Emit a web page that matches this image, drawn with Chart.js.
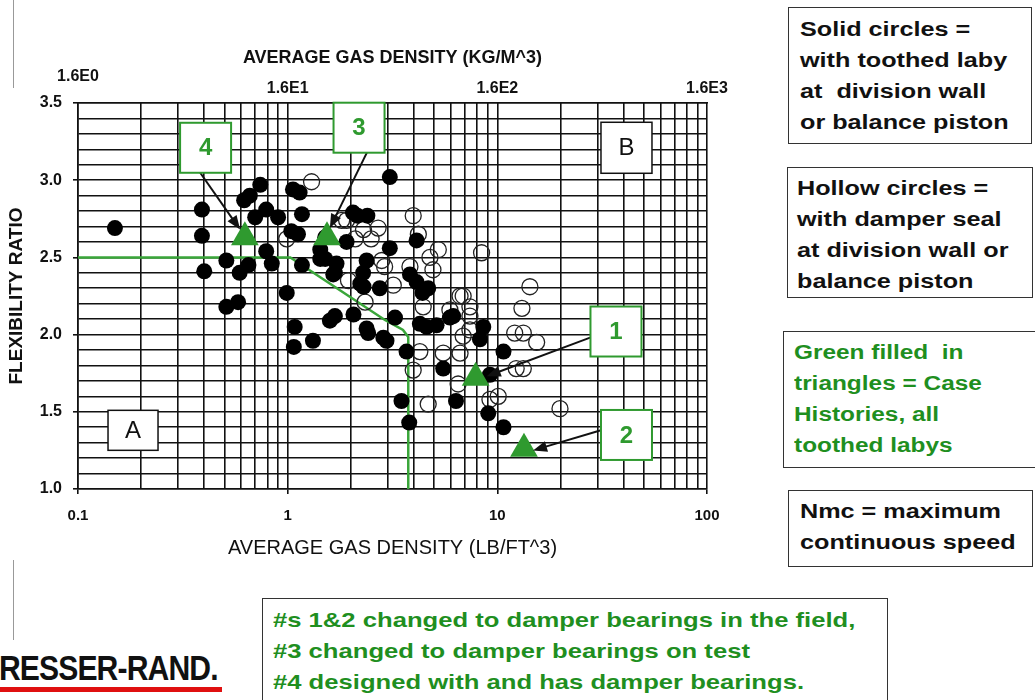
<!DOCTYPE html>
<html>
<head>
<meta charset="utf-8">
<script src="https://cdn.jsdelivr.net/npm/chart.js@4.4.1/dist/chart.umd.min.js"></script>
<style>
  body { margin: 0; width: 1035px; height: 700px; background: #fff; position: relative; overflow: hidden;
         font-family: "Liberation Sans", Arial, sans-serif; }
  #chart { position: absolute; left: 0; top: 0; }
  .note { position: absolute; border: 1.5px solid #333; background: #fff; box-sizing: border-box; overflow: hidden;
          font-weight: bold; font-size: 20px; line-height: 31px; color: #111; white-space: nowrap; }
  .note span { display: inline-block; transform: scaleX(1.26); transform-origin: 0 0; }
  .green { color: #1f8f1f; }
  .edge { position: absolute; width: 1px; background: #999; }
  #logo { position: absolute; left: -22px; top: 648px; font: bold 35px "Liberation Sans", Arial;
          letter-spacing: -1px; color: #111; transform: scaleX(0.86); transform-origin: 0 0; white-space: nowrap; }
  #logoBar { position: absolute; left: 0; top: 687px; width: 222px; height: 5px; background: #e01010; }
</style>
</head>
<body>
<canvas id="chart" width="760" height="580"></canvas>

<div class="edge" style="left:13px; top:0; height:88px;"></div>
<div class="edge" style="left:13px; top:560px; height:80px;"></div>

<div class="note" style="left:788px; top:7px; width:244px; height:137px; padding:6px 0 0 11px;"><span>Solid circles =<br>with toothed laby<br>at&nbsp; division wall<br>or balance piston</span></div>
<div class="note" style="left:787px; top:167px; width:246px; height:131px; padding:5px 0 0 9px;"><span>Hollow circles =<br>with damper seal<br>at division wall or<br>balance piston</span></div>
<div class="note green" style="left:783px; top:331px; width:262px; height:137px; padding:5px 0 0 10px;"><span style="transform:scaleX(1.22)">Green filled&nbsp; in<br>triangles = Case<br>Histories, all<br>toothed labys</span></div>
<div class="note" style="left:788px; top:490px; width:245px; height:77px; padding:5px 0 0 11px;"><span>Nmc = maximum<br>continuous speed</span></div>
<div class="note green" style="left:262px; top:598px; width:626px; height:115px; padding:5px 0 0 10px; font-size:21px;"><span style="transform:scaleX(1.22)">#s 1&amp;2 changed to damper bearings in the field,<br>#3 changed to damper bearings on test<br>#4 designed with and has damper bearings.</span></div>

<div id="logo">DRESSER-RAND.</div>
<div id="logoBar"></div>

<script>
// average gas density (lb/ft^3) and flexibility ratio for compressors with toothed labyrinths
const solidX = [0.15, 0.39, 0.39, 0.40, 0.51, 0.59, 0.65, 0.51, 0.58, 0.62, 0.66, 0.74, 0.79, 0.70, 0.90,
  1.06, 1.14, 1.17, 1.04, 1.12, 0.79, 0.84, 1.17, 0.99, 1.08, 1.07, 1.32, 1.43, 1.51, 1.51, 1.43, 1.59,
  1.65, 2.06, 2.05, 2.15, 2.40, 3.07, 2.30, 2.75, 2.42, 2.86, 1.71, 1.68, 2.38, 2.29, 2.22, 3.07, 4.12,
  4.12, 4.68, 3.83, 4.40, 6.16, 4.27, 3.25, 1.68, 2.38, 5.13, 2.96, 3.69, 4.60, 5.94, 8.57, 8.26, 10.7,
  5.52, 9.22, 3.49, 3.80, 6.35, 9.05, 10.7, 1.91];
const solidY = [2.69, 2.81, 2.64, 2.41, 2.48, 2.40, 2.45, 2.18, 2.21, 2.87, 2.90, 2.97, 2.81, 2.76, 2.76,
  2.94, 2.92, 2.78, 2.67, 2.65, 2.54, 2.46, 2.45, 2.27, 2.05, 1.92, 1.96, 2.49, 2.49, 2.63, 2.55, 2.09,
  2.39, 2.13, 2.79, 2.77, 2.77, 3.02, 2.31, 2.30, 2.01, 1.98, 2.46, 2.40, 2.48, 2.40, 2.33, 2.56, 2.61,
  2.34, 2.30, 2.39, 2.27, 2.12, 2.07, 2.11, 2.12, 2.04, 2.06, 1.96, 1.89, 2.05, 2.11, 2.05, 1.97, 1.89,
  1.78, 1.74, 1.57, 1.43, 1.57, 1.49, 1.40, 2.60];

// compressors with damper seals
const hollowX = [1.30, 0.99, 1.91, 1.81, 2.30, 2.70, 3.97, 4.20, 5.23, 4.77, 1.95, 2.81, 3.19, 3.83, 4.93,
  6.87, 2.34, 7.40, 8.41, 13.1, 12.1, 13.3, 15.4, 12.3, 13.3, 10.1, 19.9, 4.68, 3.97, 5.52, 6.64, 6.87,
  7.40, 6.50, 9.22, 4.43, 7.40, 14.3, 4.27, 6.64, 5.94, 2.10, 2.50, 2.90];
const hollowY = [2.99, 2.62, 2.74, 2.74, 2.68, 2.69, 2.77, 2.65, 2.55, 2.50, 2.35, 2.48, 2.32, 2.44, 2.42,
  2.25, 2.21, 2.12, 2.53, 2.17, 2.01, 2.01, 1.95, 1.78, 1.78, 1.60, 1.52, 1.55, 1.77, 1.88, 1.88, 1.99,
  2.03, 1.68, 1.58, 2.18, 2.18, 2.31, 1.89, 2.25, 2.16, 2.62, 2.62, 2.44];

// case histories 1..4
const caseX = [7.88, 13.4, 1.54, 0.625];
const caseY = [1.72, 1.26, 2.63, 2.63];

// stability boundary between region A and region B
const boundaryX = [0.1, 1.03, 2.91, 3.55, 3.76, 3.76];
const boundaryY = [2.5, 2.5, 2.095, 2.03, 1.985, 1.0];

// callout boxes and their arrows
const calloutLabels = ['1', '2', '3', '4'];
const calloutBoxX = [36.8, 41.3, 2.19, 0.406];
const calloutBoxY = [2.02, 1.35, 3.34, 3.21];
const arrowFromX = [27.7, 31.2, 2.39, 0.382];
const arrowFromY = [1.98, 1.38, 3.18, 3.05];
const arrowToX = [8.9, 14.8, 1.59, 0.593];
const arrowToY = [1.73, 1.25, 2.69, 2.68];

const regionLabels = ['A', 'B'];
const regionX = [0.183, 41.3];
const regionY = [1.38, 3.21];

const xTickValues = [0.1, 1, 10, 100];
const topTickValues = [1.6, 16, 160, 1600];
const topTickLabels = ['1.6E0', '1.6E1', '1.6E2', '1.6E3'];

const GREEN = '#2f9a2f';
const INK = '#111';

const pts = (xs, ys) => xs.map((v, i) => ({x: v, y: ys[i]}));

// log grid: 1..9 in every decade
const gridX = [];
[0.1, 1, 10].forEach(d => { for (let k = 1; k <= 9; k++) gridX.push(+(k * d).toPrecision(3)); });
gridX.push(100);
const gridY = [];
for (let i = 0; i <= 25; i++) gridY.push(+(1 + i * 0.1).toFixed(1));

const isMajorX = v => xTickValues.some(t => Math.abs(t - v) < 1e-9);
const isMajorY = v => Math.abs(v * 2 - Math.round(v * 2)) < 1e-6;

const calloutPlugin = {
  id: 'callouts',
  afterDatasetsDraw(chart) {
    const {ctx, scales: {x, y}} = chart;
    ctx.save();

    ctx.strokeStyle = INK;
    ctx.fillStyle = INK;
    ctx.lineWidth = 2;
    calloutLabels.forEach((lbl, i) => {
      const x0 = x.getPixelForValue(arrowFromX[i]), y0 = y.getPixelForValue(arrowFromY[i]);
      const x1 = x.getPixelForValue(arrowToX[i]), y1 = y.getPixelForValue(arrowToY[i]);
      const a = Math.atan2(y1 - y0, x1 - x0);
      const c = Math.cos(a), s = Math.sin(a);
      ctx.beginPath();
      ctx.moveTo(x0, y0);
      ctx.lineTo(x1 - 8 * c, y1 - 8 * s);
      ctx.stroke();
      ctx.beginPath();
      ctx.moveTo(x1, y1);
      ctx.lineTo(x1 - 14 * c + 5.5 * s, y1 - 14 * s - 5.5 * c);
      ctx.lineTo(x1 - 14 * c - 5.5 * s, y1 - 14 * s + 5.5 * c);
      ctx.closePath();
      ctx.fill();
    });

    const drawBox = (cx, cy, w, h, text, color, width, font) => {
      ctx.fillStyle = '#fff';
      ctx.fillRect(cx - w / 2, cy - h / 2, w, h);
      ctx.strokeStyle = color;
      ctx.lineWidth = width;
      ctx.strokeRect(cx - w / 2, cy - h / 2, w, h);
      ctx.fillStyle = color;
      ctx.font = font;
      ctx.textAlign = 'center';
      ctx.textBaseline = 'middle';
      ctx.fillText(text, cx, cy + 1);
    };

    calloutLabels.forEach((lbl, i) => {
      drawBox(x.getPixelForValue(calloutBoxX[i]), y.getPixelForValue(calloutBoxY[i]), 51, 50,
        lbl, GREEN, 2, 'bold 24px "Liberation Sans", Arial');
    });
    drawBox(x.getPixelForValue(regionX[0]), y.getPixelForValue(regionY[0]), 50, 40,
      regionLabels[0], INK, 1.5, '24px "Liberation Sans", Arial');
    drawBox(x.getPixelForValue(regionX[1]), y.getPixelForValue(regionY[1]), 51, 51,
      regionLabels[1], INK, 1.5, '24px "Liberation Sans", Arial');
    ctx.restore();
  }
};

Chart.defaults.font.family = '"Liberation Sans", Arial, sans-serif';
Chart.defaults.color = INK;

new Chart(document.getElementById('chart'), {
  type: 'scatter',
  data: {
    datasets: [
      {
        label: 'Case histories',
        data: pts(caseX, caseY),
        pointStyle: 'triangle',
        pointRadius: 16,
        backgroundColor: GREEN,
        borderColor: GREEN,
        borderWidth: 0
      },
      {
        label: 'Toothed laby',
        data: pts(solidX, solidY),
        pointRadius: 8,
        backgroundColor: '#000',
        borderWidth: 0
      },
      {
        label: 'Damper seal',
        data: pts(hollowX, hollowY),
        pointRadius: 8,
        backgroundColor: 'rgba(0,0,0,0)',
        borderColor: '#222',
        borderWidth: 1.3
      },
      {
        label: 'Boundary',
        data: pts(boundaryX, boundaryY),
        showLine: true,
        pointRadius: 0,
        borderColor: '#3aa63a',
        borderWidth: 2.5
      }
    ]
  },
  options: {
    responsive: false,
    animation: false,
    layout: { padding: { left: 0, top: 0, right: 53, bottom: 0 } },
    plugins: { legend: { display: false }, tooltip: { enabled: false } },
    scales: {
      x: {
        type: 'logarithmic',
        position: 'bottom',
        min: 0.1,
        max: 100,
        afterBuildTicks: s => { s.ticks = gridX.map(v => ({value: v})); },
        afterFit: s => { s.height = 91; },
        grid: {
          color: INK,
          lineWidth: 1.6,
          tickLength: 5,
          tickColor: c => (c.tick && isMajorX(c.tick.value)) ? INK : 'rgba(0,0,0,0)'
        },
        border: { color: INK, width: 1.6 },
        ticks: {
          autoSkip: false,
          maxRotation: 0,
          padding: 13,
          font: { size: 15, weight: 'bold' },
          callback: v => isMajorX(v) ? String(v) : ''
        },
        title: {
          display: true,
          text: 'AVERAGE GAS DENSITY (LB/FT^3)',
          font: { size: 20 },
          padding: { bottom: 20 }
        }
      },
      x2: {
        type: 'logarithmic',
        position: 'top',
        min: 1.6,
        max: 1600,
        afterBuildTicks: s => { s.ticks = topTickValues.map(v => ({value: v})); },
        afterFit: s => { s.height = 103; },
        grid: { display: false, drawTicks: false },
        border: { color: INK, width: 1.6 },
        ticks: {
          autoSkip: false,
          maxRotation: 0,
          padding: 8,
          font: { size: 16, weight: 'bold', lineHeight: 0.75 },
          callback: (v, i) => i === 0 ? [topTickLabels[i], ''] : topTickLabels[i]
        },
        title: {
          display: true,
          text: 'AVERAGE GAS DENSITY (KG/M^3)',
          font: { size: 18, weight: 'bold' },
          padding: { top: 47 }
        }
      },
      y: {
        type: 'linear',
        min: 1,
        max: 3.5,
        afterBuildTicks: s => { s.ticks = gridY.map(v => ({value: v})); },
        afterFit: s => { s.width = 78; },
        grid: {
          color: INK,
          lineWidth: 1.6,
          tickLength: 5,
          tickColor: c => (c.tick && isMajorY(c.tick.value)) ? INK : 'rgba(0,0,0,0)'
        },
        border: { color: INK, width: 1.6 },
        ticks: {
          autoSkip: false,
          padding: 11,
          font: { size: 16, weight: 'bold' },
          callback: v => isMajorY(v) ? v.toFixed(1) : ''
        },
        title: {
          display: true,
          text: 'FLEXIBILITY RATIO',
          font: { size: 19, weight: 'bold' },
          padding: { top: 5 }
        }
      }
    }
  },
  plugins: [calloutPlugin]
});
</script>
</body>
</html>
